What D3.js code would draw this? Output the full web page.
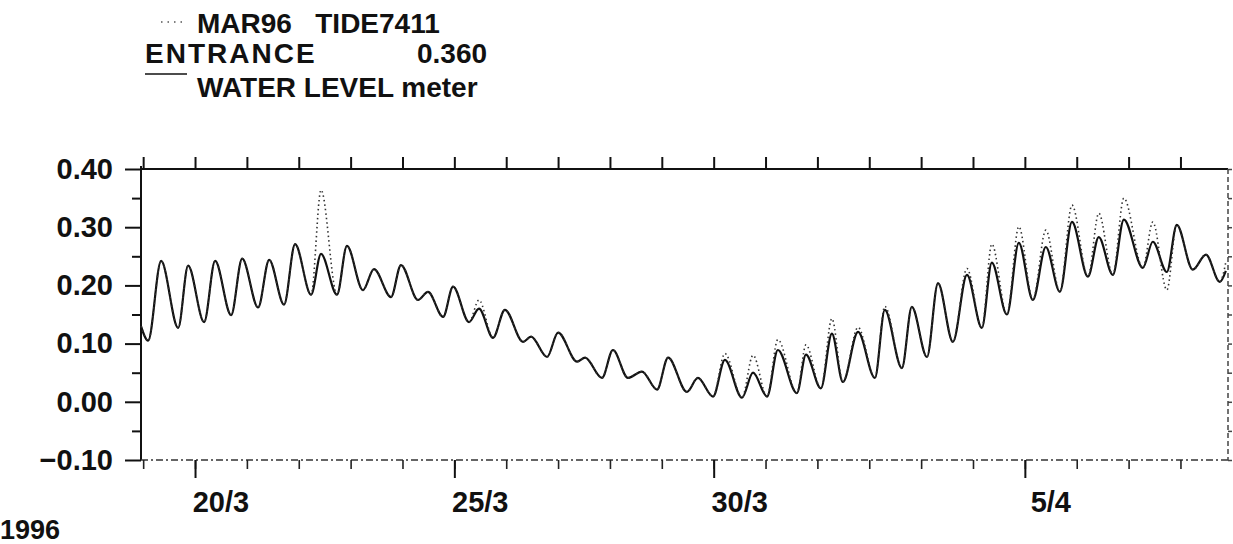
<!DOCTYPE html>
<meta charset="utf-8">
<style>
  body { margin: 0; background: #fff; }
  svg text { font-family: 'Liberation Sans', Arial, Helvetica, sans-serif; font-weight: bold; fill: #111; }
</style>
<body>
<div id="viz"></div>
<script src="https://d3js.org/d3.v7.min.js"></script>
<script>

// hours after 19/3/1996 00:00, one entry per high / low water
var hours = [-1, 2.3, 8.3, 16.2, 20.8, 28.2, 33.3, 40.7, 45.8, 53.2,
             58.3, 65.2, 70.3, 77.7, 82.3, 89.7, 94.3, 101.7, 106.8, 114.7,
             119.3, 127.2, 131.8, 138.8, 143.4, 150.8, 155.4, 161.9, 167.4, 175.8,
             179.5, 186.9, 192.0, 200.8, 204.5, 212.3, 217.4, 224.3, 230.8, 237.8,
             242.9, 251.6, 256.7, 263.7, 269.2, 277.1, 282.2, 288.7, 293.7, 302.5,
             306.7, 313.6, 318.7, 323.8, 330.8, 338.6, 343.2, 351.1, 355.7, 362.7,
             367.8, 374.7, 381.2, 388.1, 392.7, 399.7, 405.2, 411.7, 417.7, 424.2,
             429.8, 437.2, 442.2, 448.7, 453.8, 462.6, 467.2, 473.7, 478.3, 485.7,
             491.8, 498.2, 501.0];

// solid line: WATER LEVEL (m)
var level = [0.130, 0.105, 0.242, 0.127, 0.234, 0.137, 0.242, 0.149, 0.246, 0.162,
             0.244, 0.167, 0.271, 0.184, 0.254, 0.184, 0.268, 0.192, 0.228, 0.180,
             0.235, 0.175, 0.189, 0.146, 0.198, 0.137, 0.160, 0.110, 0.158, 0.103,
             0.112, 0.077, 0.119, 0.069, 0.076, 0.041, 0.089, 0.041, 0.052, 0.021,
             0.076, 0.017, 0.041, 0.009, 0.072, 0.007, 0.050, 0.009, 0.089, 0.015,
             0.081, 0.023, 0.117, 0.034, 0.120, 0.041, 0.158, 0.058, 0.163, 0.077,
             0.204, 0.103, 0.218, 0.127, 0.239, 0.150, 0.273, 0.175, 0.266, 0.189,
             0.309, 0.215, 0.283, 0.218, 0.313, 0.230, 0.275, 0.223, 0.304, 0.227,
             0.253, 0.206, 0.225];

// dotted line: MAR96 TIDE7411
var tide = [0.130, 0.105, 0.242, 0.127, 0.234, 0.137, 0.242, 0.149, 0.246, 0.162,
            0.244, 0.167, 0.271, 0.184, 0.364, 0.184, 0.268, 0.192, 0.228, 0.180,
            0.235, 0.175, 0.189, 0.146, 0.198, 0.137, 0.175, 0.110, 0.158, 0.103,
            0.112, 0.077, 0.119, 0.069, 0.076, 0.041, 0.089, 0.041, 0.052, 0.021,
            0.076, 0.017, 0.041, 0.009, 0.083, 0.007, 0.080, 0.009, 0.107, 0.015,
            0.098, 0.023, 0.143, 0.034, 0.128, 0.041, 0.164, 0.058, 0.163, 0.077,
            0.204, 0.103, 0.229, 0.127, 0.271, 0.150, 0.301, 0.175, 0.295, 0.189,
            0.338, 0.215, 0.324, 0.218, 0.350, 0.230, 0.309, 0.192, 0.304, 0.227,
            0.253, 0.206, 0.240];

var yTicks = [-0.10, 0.00, 0.10, 0.20, 0.30, 0.40];
var yMinor = [-0.05, 0.05, 0.15, 0.25, 0.35];
var labelDays = [new Date(1996, 2, 20), new Date(1996, 2, 25), new Date(1996, 2, 30), new Date(1996, 3, 5)];

var t0 = new Date(1996, 2, 19).getTime();
var levelData = hours.map(function(h, i) { return {date: new Date(t0 + h * 3600e3), v: level[i]}; });
var tideData  = hours.map(function(h, i) { return {date: new Date(t0 + h * 3600e3), v: tide[i]}; });

var W = 1233, H = 544;
var plotL = 141, plotR = 1228, plotT = 169, plotB = 460;

var x = d3.scaleTime()
    .domain([new Date(1996, 2, 18, 23), new Date(1996, 3, 8, 22)])
    .range([plotL, plotR]);
var y = d3.scaleLinear().domain([-0.1, 0.4]).range([plotB, plotT]);

var svg = d3.select('#viz').append('svg')
    .attr('width', W)
    .attr('height', H);

// header / legend
svg.append('line')
    .attr('x1', 161).attr('x2', 182).attr('y1', 22).attr('y2', 22)
    .attr('stroke', '#555').attr('stroke-width', 1.5).attr('stroke-dasharray', '1.5 5');
svg.append('text').attr('x', 197).attr('y', 33).attr('font-size', 28)
    .attr('xml:space', 'preserve').text('MAR96   TIDE7411');
svg.append('text').attr('x', 145).attr('y', 63).attr('font-size', 28)
    .attr('letter-spacing', 2).text('ENTRANCE');
svg.append('text').attr('x', 417).attr('y', 63).attr('font-size', 28).text('0.360');
svg.append('line')
    .attr('x1', 145).attr('x2', 187).attr('y1', 74).attr('y2', 74)
    .attr('stroke', '#111').attr('stroke-width', 1.5);
svg.append('text').attr('x', 197).attr('y', 97).attr('font-size', 28).text('WATER LEVEL meter');

// frame
svg.append('line').attr('x1', plotL).attr('x2', plotL).attr('y1', plotT - 3).attr('y2', plotB)
    .attr('stroke', '#111').attr('stroke-width', 2);
svg.append('line').attr('x1', plotL).attr('x2', plotR).attr('y1', plotT).attr('y2', plotT)
    .attr('stroke', '#111').attr('stroke-width', 2);
svg.append('line').attr('x1', plotL).attr('x2', plotR).attr('y1', plotB).attr('y2', plotB)
    .attr('stroke', '#333').attr('stroke-width', 1.5).attr('stroke-dasharray', '7 3 2 3');
svg.append('line').attr('x1', plotR).attr('x2', plotR).attr('y1', plotT).attr('y2', plotB)
    .attr('stroke', '#444').attr('stroke-width', 1.5).attr('stroke-dasharray', '5 3');

// y axis
var yAxis = svg.append('g')
    .attr('transform', 'translate(' + plotL + ',0)')
    .call(d3.axisLeft(y).tickValues(yTicks).tickSize(16).tickPadding(12)
          .tickFormat(d3.format('.2f')));
yAxis.select('.domain').remove();
yAxis.selectAll('line').attr('stroke', '#111').attr('stroke-width', 2);
yAxis.attr('font-family', null).attr('font-size', null);
yAxis.selectAll('text').attr('font-size', 29).attr('fill', '#111');

var yAxisMinor = svg.append('g')
    .attr('transform', 'translate(' + plotL + ',0)')
    .call(d3.axisLeft(y).tickValues(yMinor).tickSize(9).tickFormat(''));
yAxisMinor.select('.domain').remove();
yAxisMinor.selectAll('line').attr('stroke', '#111').attr('stroke-width', 2);

var yRight = svg.append('g')
    .attr('transform', 'translate(' + plotR + ',0)')
    .call(d3.axisRight(y).tickValues(yTicks.concat(yMinor)).tickSize(4).tickFormat(''));
yRight.select('.domain').remove();
yRight.selectAll('line').attr('stroke', '#444').attr('stroke-width', 1.5);

// x axes, one tick per day
var days = d3.timeDay.range(new Date(1996, 2, 19), new Date(1996, 3, 9));

var xTop = svg.append('g')
    .attr('transform', 'translate(0,' + plotT + ')')
    .call(d3.axisTop(x).tickValues(days).tickSize(12).tickFormat(''));
xTop.select('.domain').remove();
xTop.selectAll('line').attr('stroke', '#111').attr('stroke-width', 2);

var xBottom = svg.append('g')
    .attr('transform', 'translate(0,' + plotB + ')')
    .call(d3.axisBottom(x).tickValues(days).tickSize(9).tickFormat(''));
xBottom.select('.domain').remove();
xBottom.selectAll('line').attr('stroke', '#222').attr('stroke-width', 1.6);

var xLong = svg.append('g')
    .attr('transform', 'translate(0,' + plotB + ')')
    .call(d3.axisBottom(x).tickValues(labelDays).tickSize(18).tickFormat(''));
xLong.select('.domain').remove();
xLong.selectAll('line').attr('stroke', '#111').attr('stroke-width', 2);

// date labels, centred on the middle of the day
svg.selectAll('.dayLabel')
    .data(labelDays)
  .enter().append('text')
    .attr('class', 'dayLabel')
    .attr('x', function(d) { return x(d3.timeHour.offset(d, 12)); })
    .attr('y', 512)
    .attr('text-anchor', 'middle')
    .attr('font-size', 29)
    .text(d3.timeFormat('%-d/%-m'));

svg.append('text').attr('x', 0).attr('y', 539).attr('font-size', 27).text('1996');

// series
var line = d3.line()
    .x(function(d) { return x(d.date); })
    .y(function(d) { return y(d.v); })
    .curve(d3.curveMonotoneX);

svg.append('path')
    .datum(levelData)
    .attr('d', line)
    .attr('fill', 'none')
    .attr('stroke', '#111')
    .attr('stroke-width', 2.2);

svg.append('path')
    .datum(tideData)
    .attr('d', line)
    .attr('fill', 'none')
    .attr('stroke', '#333')
    .attr('stroke-width', 1.6)
    .attr('stroke-dasharray', '1.5 3');

</script>
</body>
